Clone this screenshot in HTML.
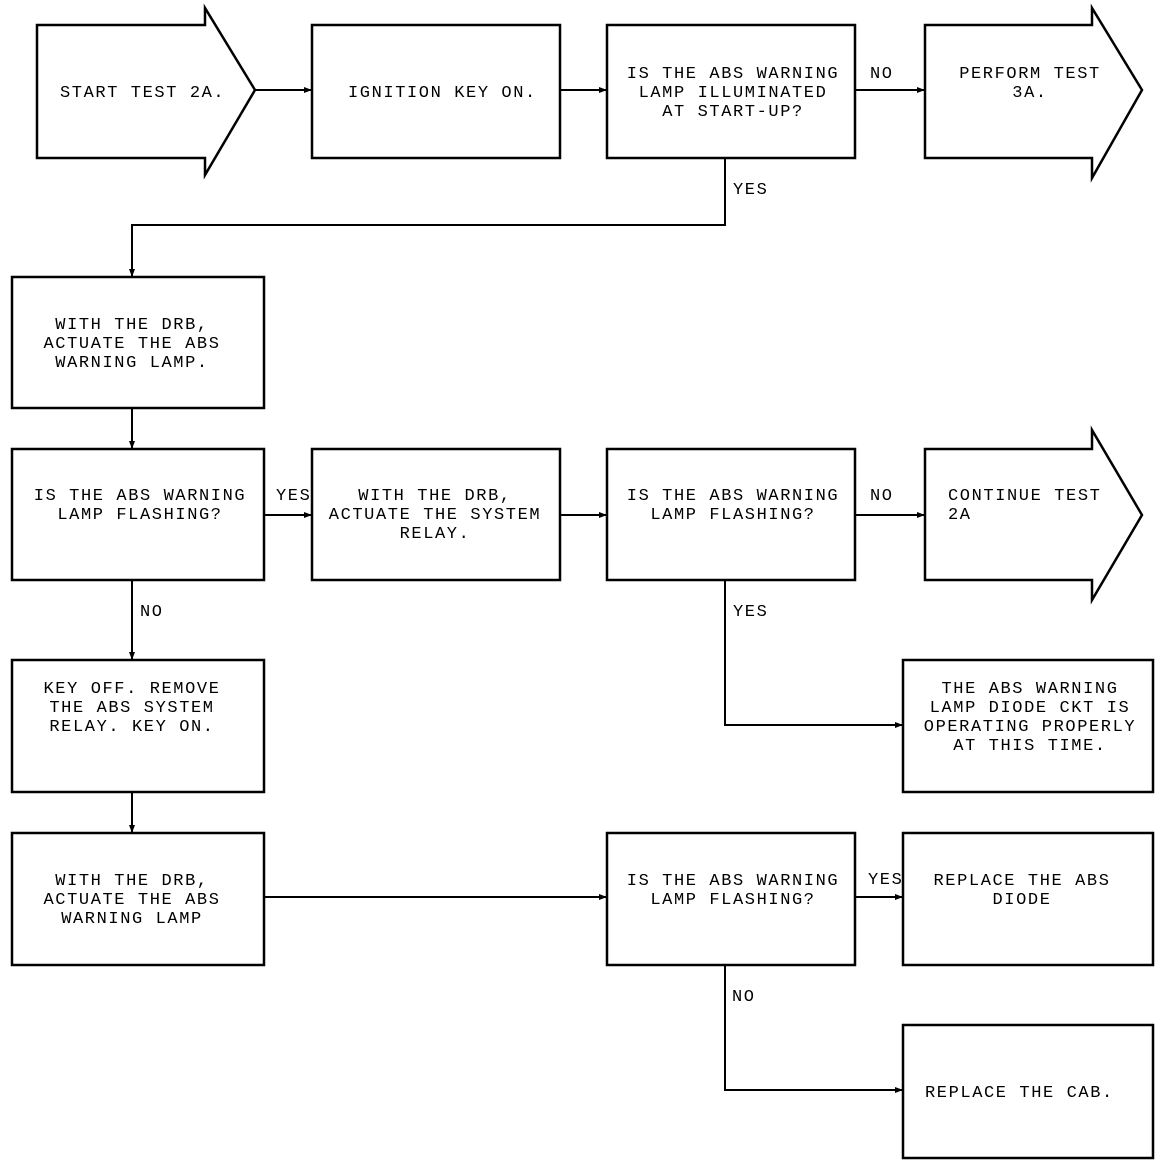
<!DOCTYPE html>
<html><head><style>
html,body{margin:0;padding:0;background:#fff;}
svg{display:block;}
text{font-family:"Liberation Mono",monospace;font-size:17px;letter-spacing:1.6px;fill:#000;}
</style></head><body>
<svg width="1168" height="1166" viewBox="0 0 1168 1166" xmlns="http://www.w3.org/2000/svg">
<defs>
<marker id="a" markerWidth="8" markerHeight="6" refX="8" refY="3" orient="auto" markerUnits="userSpaceOnUse">
<path d="M0,0 L8,3 L0,6 z" fill="#000"/></marker>
</defs>
<g fill="none" stroke="#000" stroke-width="2.5">
<path d="M37,25 H205 V8 L255,90 L205,175 V158 H37 Z"/>
<rect x="312" y="25" width="248" height="133"/>
<rect x="607" y="25" width="248" height="133"/>
<path d="M925,25 H1092 V8 L1142,90 L1092,178 V158 H925 Z"/>
<rect x="12" y="277" width="252" height="131"/>
<rect x="12" y="449" width="252" height="131"/>
<rect x="312" y="449" width="248" height="131"/>
<rect x="607" y="449" width="248" height="131"/>
<path d="M925,449 H1092 V430 L1142,515 L1092,600 V580 H925 Z"/>
<rect x="903" y="660" width="250" height="132"/>
<rect x="12" y="660" width="252" height="132"/>
<rect x="12" y="833" width="252" height="132"/>
<rect x="607" y="833" width="248" height="132"/>
<rect x="903" y="833" width="250" height="132"/>
<rect x="903" y="1025" width="250" height="133"/>
</g>
<g fill="none" stroke="#000" stroke-width="2" marker-end="url(#a)">
<path d="M255,90 H312"/>
<path d="M560,90 H607"/>
<path d="M855,90 H925"/>
<path d="M725,158 V225 H132 V277"/>
<path d="M132,408 V449"/>
<path d="M264,515 H312"/>
<path d="M560,515 H607"/>
<path d="M855,515 H925"/>
<path d="M725,580 V725 H903"/>
<path d="M132,580 V660"/>
<path d="M132,792 V833"/>
<path d="M264,897 H607"/>
<path d="M855,897 H903"/>
<path d="M725,965 V1090 H903"/>
</g>
<text x="60" y="97">START TEST 2A.</text>
<text x="348" y="97">IGNITION KEY ON.</text>
<g text-anchor="middle">
<text x="733" y="78">IS THE ABS WARNING</text>
<text x="733" y="97">LAMP ILLUMINATED</text>
<text x="733" y="116">AT START-UP?</text>
<text x="1030" y="78">PERFORM TEST</text>
<text x="1030" y="97">3A.</text>
<text x="132" y="329">WITH THE DRB,</text>
<text x="132" y="348">ACTUATE THE ABS</text>
<text x="132" y="367">WARNING LAMP.</text>
<text x="140" y="500">IS THE ABS WARNING</text>
<text x="140" y="519">LAMP FLASHING?</text>
<text x="435" y="500">WITH THE DRB,</text>
<text x="435" y="519">ACTUATE THE SYSTEM</text>
<text x="435" y="538">RELAY.</text>
<text x="733" y="500">IS THE ABS WARNING</text>
<text x="733" y="519">LAMP FLASHING?</text>
<text x="1030" y="693">THE ABS WARNING</text>
<text x="1030" y="712">LAMP DIODE CKT IS</text>
<text x="1030" y="731">OPERATING PROPERLY</text>
<text x="1030" y="750">AT THIS TIME.</text>
<text x="132" y="693">KEY OFF. REMOVE</text>
<text x="132" y="712">THE ABS SYSTEM</text>
<text x="132" y="731">RELAY. KEY ON.</text>
<text x="132" y="885">WITH THE DRB,</text>
<text x="132" y="904">ACTUATE THE ABS</text>
<text x="132" y="923">WARNING LAMP</text>
<text x="733" y="885">IS THE ABS WARNING</text>
<text x="733" y="904">LAMP FLASHING?</text>
<text x="1022" y="885">REPLACE THE ABS</text>
<text x="1022" y="904">DIODE</text>
</g>
<text x="948" y="500">CONTINUE TEST</text>
<text x="948" y="519">2A</text>
<text x="925" y="1097">REPLACE THE CAB.</text>
<text x="870" y="78">NO</text>
<text x="733" y="194">YES</text>
<text x="276" y="500">YES</text>
<text x="870" y="500">NO</text>
<text x="733" y="616">YES</text>
<text x="140" y="616">NO</text>
<text x="868" y="884">YES</text>
<text x="732" y="1001">NO</text>
</svg>
</body></html>
